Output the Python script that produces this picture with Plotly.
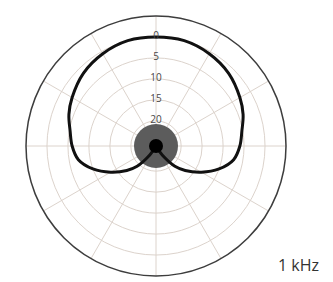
import plotly.graph_objects as go

# Polar response (angle clockwise from front, attenuation in dB)
theta_deg = [0, 15, 30, 45, 60, 70, 80, 90, 100, 110, 120, 130, 137, 143, 148, 152, 180,
             208, 212, 217, 223, 230, 240, 250, 260, 270, 280, 290, 300, 315, 330, 345, 360]
atten_db = [0, 0, 0.6, 1.5, 2.9, 3.9, 5.2, 6.0, 7.2, 10.0, 13.5, 16.9, 19.4, 22.4, 24.8, 26, 26,
            26, 24.8, 22.4, 19.4, 16.9, 13.5, 10.0, 7.2, 6.0, 5.2, 3.9, 2.9, 1.5, 0.6, 0, 0]

ring_db = [0, 5, 10, 15, 20]
ring_labels = ["0", "5", "10", "15", "20"]
center_db = 26
outer_db = -5
freq_label = "1 kHz"

GRID = "#dcd3cc"

fig = go.Figure()

# gray disk at the center
fig.add_trace(go.Scatterpolar(
    r=[-center_db], theta=[0], mode="markers",
    marker=dict(size=44, color="#5c5c5c", line=dict(width=0)),
    hoverinfo="skip", showlegend=False))

# response curve
fig.add_trace(go.Scatterpolar(
    r=[-a for a in atten_db], theta=theta_deg, mode="lines",
    line=dict(color="#111111", width=3, shape="spline", smoothing=1),
    hoverinfo="skip", showlegend=False))

# black center dot
fig.add_trace(go.Scatterpolar(
    r=[-center_db], theta=[0], mode="markers",
    marker=dict(size=14, color="#000000", line=dict(width=0)),
    hoverinfo="skip", showlegend=False))

# ring labels along the front axis
fig.add_trace(go.Scatterpolar(
    r=[-v for v in ring_db], theta=[0] * len(ring_db), mode="text",
    text=ring_labels, textposition="middle center",
    textfont=dict(family="Open Sans", size=10, color="#474747"),
    hoverinfo="skip", showlegend=False))

W, H = 333, 282
cx, cy, R = 148, 138, 130
fig.update_layout(
    width=W, height=H,
    margin=dict(l=0, r=0, t=0, b=0),
    paper_bgcolor="white", plot_bgcolor="white",
    showlegend=False,
    polar=dict(
        domain=dict(x=[(cx - R) / W, (cx + R) / W], y=[1 - (cy + R) / H, 1 - (cy - R) / H]),
        bgcolor="white",
        radialaxis=dict(range=[-center_db, -outer_db], tickvals=[-v for v in ring_db],
                        showticklabels=False, ticks="", showline=False,
                        gridcolor=GRID, gridwidth=1),
        angularaxis=dict(rotation=90, direction="clockwise", dtick=30,
                         showticklabels=False, ticks="", showline=True,
                         linecolor="#3d3d3d", linewidth=1.5,
                         gridcolor=GRID, gridwidth=1),
    ),
    annotations=[dict(text=freq_label, x=290 / W, y=1 - 257 / H, xref="paper", yref="paper",
                      showarrow=False, xanchor="center", yanchor="middle",
                      font=dict(family="Open Sans", size=16, color="#333333"))],
)

fig.write_html("out.html", config={"displayModeBar": False})
